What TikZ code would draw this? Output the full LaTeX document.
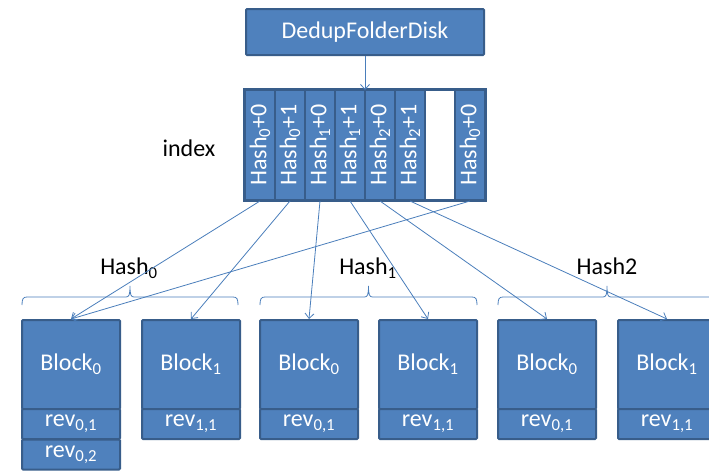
\documentclass[tikz,border=0pt]{standalone}
\usepackage{fontspec}
\usepackage{graphicx}
\setmainfont{Carlito}
\usetikzlibrary{arrows.meta}
\definecolor{boxfill}{HTML}{4F81BD}
\definecolor{boxline}{HTML}{385D8A}
\definecolor{linkc}{HTML}{4A7EBB}
\newcommand\mybrace[3]{%
  \pgfmathsetmacro\bm{(#1+#2)/2}%
  \draw[bracel] (#1,#3) .. controls (#1,#3-6) and (#1+1,#3-8) .. (#1+5,#3-8) -- (\bm-4,#3-8)
    .. controls (\bm-1,#3-8) and (\bm,#3-10) .. (\bm,#3-19)
    .. controls (\bm,#3-10) and (\bm+1,#3-8) .. (\bm+4,#3-8) -- (#2-5,#3-8)
    .. controls (#2-1,#3-8) and (#2,#3-6) .. (#2,#3);}
\begin{document}
\begin{tikzpicture}[x=1pt,y=-1pt,
  font=\fontsize{24}{28}\selectfont,
  box/.style={draw=boxline, line width=2pt, fill=boxfill, text=white, inner sep=0pt, rounded corners=1pt},
  cell/.style={box, minimum width=30pt, minimum height=110pt, rounded corners=0pt},
  blk/.style={box, minimum width=98pt, minimum height=89pt},
  rev/.style={box, minimum width=98pt, minimum height=30pt},
  lbl/.style={text=black, inner sep=0pt},
  link/.style={draw=linkc, line width=0.8pt, -{Straight Barb[length=5pt,width=9pt]}},
  bracel/.style={draw=linkc, line width=0.8pt}]
\useasboundingbox (0,0) rectangle (709,471);
% top node
\node[box, minimum width=238pt, minimum height=46pt] (top) at (365,32) {DedupFolderDisk};
% index cells
\node[cell] (c0) at (260,145) {\rotatebox{90}{Hash\textsubscript{0}+0}};
\node[cell] (c1) at (290,145) {\rotatebox{90}{Hash\textsubscript{0}+1}};
\node[cell] (c2) at (320,145) {\rotatebox{90}{Hash\textsubscript{1}+0}};
\node[cell] (c3) at (350,145) {\rotatebox{90}{Hash\textsubscript{1}+1}};
\node[cell] (c4) at (380,145) {\rotatebox{90}{Hash\textsubscript{2}+0}};
\node[cell] (c5) at (410,145) {\rotatebox{90}{Hash\textsubscript{2}+1}};
\node[cell, fill=white] (c6) at (440,145) {};
\node[cell] (c7) at (470,145) {\rotatebox{90}{Hash\textsubscript{0}+0}};
\draw[boxline, line width=2.5pt] (c0.north west) rectangle (c7.south east);
\node[lbl] (idx) at (189,148) {index};
\coordinate (itop) at (365,90);
\draw[link] (top.south -| itop) -- (itop);
% blocks
\node[blk] (b00) at (71,364.5) {\raisebox{-3pt}{Block\textsubscript{0}}};
\node[rev] (r001) at (71,424) {\raisebox{-2pt}{rev\textsubscript{0,1}}};
\node[rev] (r002) at (71,454.5) {\raisebox{-2pt}{rev\textsubscript{0,2}}};
\node[blk] (b01) at (191,364.5) {\raisebox{-3pt}{Block\textsubscript{1}}};
\node[rev] (r011) at (191,424) {\raisebox{-2pt}{rev\textsubscript{1,1}}};
\node[blk] (b10) at (309,364.5) {\raisebox{-3pt}{Block\textsubscript{0}}};
\node[rev] (r101) at (309,424) {\raisebox{-2pt}{rev\textsubscript{0,1}}};
\node[blk] (b11) at (428,364.5) {\raisebox{-3pt}{Block\textsubscript{1}}};
\node[rev] (r111) at (428,424) {\raisebox{-2pt}{rev\textsubscript{1,1}}};
\node[blk] (b20) at (547,364.5) {\raisebox{-3pt}{Block\textsubscript{0}}};
\node[rev] (r201) at (547,424) {\raisebox{-2pt}{rev\textsubscript{0,1}}};
\node[blk] (b21) at (667,364.5) {\raisebox{-3pt}{Block\textsubscript{1}}};
\node[rev] (r211) at (667,424) {\raisebox{-2pt}{rev\textsubscript{1,1}}};
% braces and labels
\mybrace{22}{238}{305}
\mybrace{260}{477}{305}
\mybrace{498}{716}{305}
\node[lbl] (h0) at (129,268) {Hash\textsubscript{0}};
\node[lbl] (h1) at (368,268) {Hash\textsubscript{1}};
\node[lbl] (h2) at (607,266) {Hash2};
% links
\draw[link] (c0.south) -- (b00.north);
\draw[link] (c1.south) -- (b01.north);
\draw[link] (c2.south) -- (b10.north);
\draw[link] (c3.south) -- (b11.north);
\draw[link] (c4.south) -- (b20.north);
\draw[link] (c5.south) -- (b21.north);
\draw[link] (c7.south) -- (b00.north);
\end{tikzpicture}
\end{document}
